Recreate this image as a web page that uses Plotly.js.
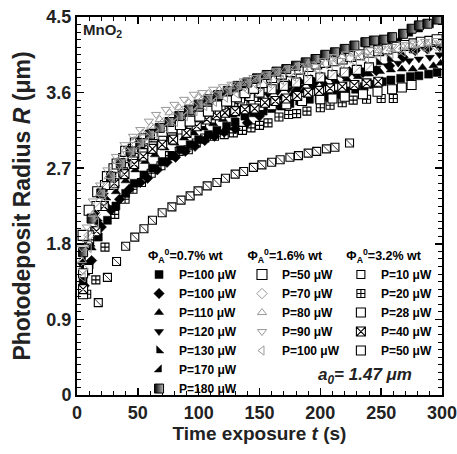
<!DOCTYPE html>
<html><head><meta charset="utf-8">
<script src="https://cdn.plot.ly/plotly-3.0.1.min.js"></script>
<style>body{margin:0;background:#fff}#chart{width:457px;height:454px}</style>
</head><body><div id="chart"></div>
<script>
// ---- Φ_A^0 = 0.7% wt (black filled) ----
const t_07_sq100 = [5,10,17.5,25,32,40,47,55,62,70,78,85,93,100,108,115,123,130,138,145,153,160,168,175,183,191,199,206,214,221,229,236,244,251,258,266,274,281,289,296];
const r_07_sq100 = [1.35,1.55,1.88,2.08,2.25,2.4,2.52,2.62,2.7,2.78,2.85,2.92,2.98,3.04,3.1,3.15,3.2,3.25,3.32,3.36,3.38,3.41,3.44,3.47,3.5,3.52,3.53,3.55,3.58,3.62,3.64,3.67,3.7,3.73,3.75,3.77,3.79,3.8,3.82,3.84];
const t_07_di100 = [6,12,20,28,35,43,52,58,66,74,81,89,97,105,113,121,130,140,150,165,180,195,210,224,235,246,257,268,278,288,298];
const r_07_di100 = [1.3,1.6,2.0,2.2,2.33,2.45,2.53,2.58,2.68,2.77,2.83,2.9,2.96,3.03,3.08,3.13,3.17,3.24,3.32,3.46,3.62,3.72,3.8,3.85,3.84,3.86,3.92,4.02,4.1,4.12,4.15];
const t_07_up110 = [7,12,18,25,32,40,48,56,64,72,80,88,96,104,112,120,128,136,144,152,160,168,177,186,195,204,213,222,231,240,249,258,267,276,284,293,299];
const r_07_up110 = [1.45,1.75,2.05,2.25,2.42,2.55,2.68,2.78,2.86,2.94,3.0,3.06,3.12,3.18,3.23,3.28,3.33,3.38,3.42,3.46,3.5,3.54,3.58,3.62,3.66,3.7,3.73,3.76,3.79,3.82,3.85,3.87,3.88,3.88,3.9,3.92,3.95];
const t_07_dn120 = [4,9,15,22,29,37,45,53,61,69,77,85,93,101,109,117,125,133,141,149,157,165,174,183,192,201,210,219,228,237,246,255,264,273,281,290,298];
const r_07_dn120 = [1.55,1.85,2.15,2.38,2.55,2.68,2.8,2.9,2.98,3.06,3.13,3.2,3.26,3.31,3.36,3.4,3.44,3.48,3.52,3.55,3.58,3.61,3.64,3.67,3.7,3.74,3.77,3.8,3.83,3.86,3.89,3.92,3.95,3.98,4.0,4.02,4.05];
const t_07_sw130 = [6,11,17,24,31,39,47,55,63,71,79,87,95,103,111,119,127,135,143,151,159,167,176,185,194,203,212,221,230,239,248,257,266,275,283,292,299];
const r_07_sw130 = [1.5,1.8,2.1,2.35,2.52,2.66,2.78,2.88,2.97,3.05,3.12,3.18,3.25,3.3,3.36,3.42,3.47,3.52,3.56,3.6,3.63,3.66,3.7,3.73,3.76,3.79,3.82,3.85,3.88,3.92,3.96,4.0,4.05,4.1,4.15,4.2,4.25];
const t_07_se170 = [5,10,16,23,30,38,46,54,62,70,78,86,94,102,110,118,126,134,142,150,158,166,175,184,193,202,211,220,229,238,247,256,265,274,282,291,298];
const r_07_se170 = [1.6,1.9,2.2,2.45,2.62,2.76,2.88,2.98,3.07,3.15,3.22,3.29,3.35,3.41,3.47,3.52,3.57,3.62,3.66,3.7,3.74,3.78,3.82,3.86,3.9,3.94,3.98,4.02,4.06,4.1,4.14,4.18,4.24,4.3,4.35,4.4,4.45];
const t_07_hf180 = [5,12,20,28,36,44,52,60,68,76,84,92,100,108,116,124,132,140,148,156,164,172,180,188,196,204,212,220,228,237,244,252,259,268,275,281,288,296];
const r_07_hf180 = [1.7,2.1,2.4,2.6,2.76,2.9,3.0,3.1,3.18,3.25,3.32,3.39,3.46,3.52,3.57,3.62,3.68,3.72,3.77,3.81,3.85,3.88,3.92,3.96,4.0,4.05,4.08,4.12,4.16,4.2,4.22,4.23,4.26,4.3,4.36,4.4,4.42,4.47];

// ---- Φ_A^0 = 1.6% wt (open) ----
const t_16_sq50 = [5,10,17,25,33,40,48,55,63,70,78,85,93,101,108,115,123,131,138,145,152,160,168,176,183,190,197,204,211,218,225,232,240,248,255,263,270,277,283,290,296];
const r_16_sq50 = [1.9,2.2,2.42,2.6,2.75,2.9,3.0,3.05,3.1,3.14,3.18,3.22,3.26,3.32,3.38,3.44,3.5,3.55,3.6,3.65,3.72,3.78,3.82,3.85,3.88,3.91,3.94,3.96,3.98,4.0,4.03,4.05,4.08,4.1,4.12,4.14,4.16,4.18,4.2,4.21,4.23];
const t_16_di70 = [5,10,15,21,28,35,42,49,56,63,71,79,87,95,103,111,120,129,138,147,156,165,175,185,195,205,215,225,235,245,255,265,275,285,295];
const r_16_di70 = [1.5,1.9,2.15,2.38,2.6,2.76,2.88,2.98,3.08,3.16,3.24,3.31,3.38,3.44,3.5,3.55,3.6,3.64,3.68,3.72,3.76,3.8,3.84,3.88,3.91,3.95,3.98,4.01,4.04,4.07,4.09,4.11,4.13,4.15,4.16];
const t_16_up80 = [4,8,13,19,26,33,40,47,54,61,68,76,84,92,100,108,117,126,135,144,153,162,171,180,190,199,209,218,228,238,248,258,268,278,288,298];
const r_16_up80 = [1.6,1.85,2.15,2.4,2.6,2.78,2.92,3.03,3.12,3.2,3.28,3.36,3.42,3.48,3.54,3.59,3.63,3.67,3.71,3.75,3.79,3.83,3.87,3.9,3.93,3.96,4.0,4.03,4.06,4.08,4.1,4.12,4.14,4.16,4.18,4.19];
const t_16_dn90 = [4,8,13,19,25,32,39,46,52,59,65,73,80,88,96,103,112,120,127,137,145,155,164,174,183,192,201,211,221,232,241,250,259,268,277,286,296];
const r_16_dn90 = [1.75,2.0,2.31,2.5,2.68,2.84,2.98,3.08,3.16,3.26,3.34,3.4,3.46,3.52,3.58,3.6,3.64,3.67,3.7,3.74,3.78,3.82,3.86,3.89,3.92,3.94,3.98,4.03,4.06,4.08,4.11,4.13,4.15,4.17,4.19,4.21,4.22];
const t_16_lt100 = [5,10,16,22,29,36,43,50,57,65,73,81,89,97,105,113,122,131,140,149,158,168,178,188,198,208,218,228,238,248,258,268,278,288,298];
const r_16_lt100 = [1.4,1.75,2.05,2.3,2.5,2.66,2.8,2.92,3.02,3.1,3.18,3.25,3.32,3.38,3.44,3.49,3.54,3.59,3.63,3.67,3.71,3.75,3.79,3.83,3.87,3.9,3.94,3.97,4.0,4.03,4.06,4.08,4.1,4.12,4.14];

// ---- Φ_A^0 = 3.2% wt (squares) ----
const t_32_p10 = [17.5,25,32.5,40,47.5,55,62,70,78,85.5,93,99.5,107,115,122,130,137,145,152,160,167,175,182,190,197,205,212,224];
const r_32_p10 = [1.1,1.4,1.59,1.77,1.88,1.98,2.08,2.17,2.24,2.32,2.37,2.43,2.49,2.53,2.58,2.63,2.66,2.71,2.74,2.77,2.8,2.83,2.85,2.88,2.9,2.93,2.95,3.0];
const t_32_p20 = [8,15.5,23,31,39.5,46,53,61,69,76,84,91.5,98,105,113,121,128.5,136,143,150,157,166,174,180.5,189,200,208,218,227,238,250,260];
const r_32_p20 = [1.2,1.37,1.76,2.15,2.33,2.45,2.53,2.64,2.73,2.85,2.9,2.92,3.0,3.06,3.08,3.1,3.12,3.15,3.18,3.21,3.24,3.31,3.34,3.35,3.38,3.42,3.45,3.48,3.51,3.52,3.53,3.53];
const t_32_p28 = [5,9,15,22,30,38,46,54,62,70,78,86,94,102,110,118,128,136,145,150,160,172,185,200,210,220,235,247,259,267,275];
const r_32_p28 = [1.2,1.5,1.95,2.25,2.5,2.65,2.78,2.88,2.96,3.03,3.1,3.16,3.2,3.25,3.29,3.33,3.42,3.46,3.5,3.44,3.45,3.46,3.5,3.52,3.53,3.55,3.58,3.61,3.64,3.66,3.69];
const t_32_p40 = [5,10,16,22,30.7,39,47,54.5,62,70,79,90,98.4,106.6,114.8,121.6,130,138,146,154.5,163,172,181,190,199,208,218,228,238,247.6];
const r_32_p40 = [1.26,1.85,1.95,2.25,2.52,2.63,2.75,2.84,2.93,2.98,3.04,3.12,3.2,3.28,3.33,3.36,3.38,3.4,3.41,3.48,3.5,3.53,3.56,3.6,3.62,3.65,3.67,3.69,3.71,3.73];
const t_32_p50 = [5,10,16,23,30,38,46,54,62,70,78,86,94,102,110,118,126,134,142,150,160,170,180,190,200,210,220,230,240];
const r_32_p50 = [1.45,1.9,2.25,2.5,2.7,2.82,2.93,3.02,3.1,3.17,3.22,3.28,3.33,3.37,3.41,3.45,3.49,3.53,3.56,3.6,3.64,3.68,3.72,3.75,3.78,3.81,3.84,3.87,3.9];

// legend titles and tick labels
const titles = ['\u00a0\u00a0Φ<sub>A</sub><sup>0</sup>=0.7% wt','\u00a0Φ<sub>A</sub><sup>0</sup>=1.6% wt','\u00a0Φ<sub>A</sub><sup>0</sup>=3.2% wt'];
const xTicks = [0,50,100,150,200,250,300];
const yTicks = [0,0.9,1.8,2.7,3.6,4.5];

const FONT = 'Liberation Sans, Arial, Helvetica, sans-serif';
const GRAY = '#999999';

function tr(x, y, name, legend, marker, show) {
  return {type:'scatter', mode:'markers', x:x, y:y, name:name, legend:legend,
          showlegend: show !== false, marker:marker, hoverinfo:'skip'};
}
const blk = (sym, size) => ({symbol:sym, size:size, color:'#000', line:{color:'#000', width:0.5}});
const gry = (sym, size) => ({symbol:sym, size:size, color:GRAY, line:{color:GRAY, width:1}});
const wsq = (sym, size) => ({symbol:sym, size:size, color:'#fff', line:{color:'#000', width:1.1}});

const data = [
  tr(t_32_p10, r_32_p10, 'P=10 μW', 'legend3', wsq('square', 8)),
  tr(t_32_p10, r_32_p10, '', 'legend3', {symbol:'line-nw', size:7, line:{color:'#000', width:0.8}}, false),
  tr(t_32_p20, r_32_p20, 'P=20 μW', 'legend3', wsq('square-cross', 8)),
  tr(t_07_sq100, r_07_sq100, 'P=100 μW', 'legend', blk('square', 8)),
  tr(t_07_di100, r_07_di100, 'P=100 μW ', 'legend', blk('diamond', 8)),
  tr(t_07_up110, r_07_up110, 'P=110 μW', 'legend', blk('triangle-up', 8)),
  tr(t_07_dn120, r_07_dn120, 'P=120 μW', 'legend', blk('triangle-down', 8)),
  tr(t_07_sw130, r_07_sw130, 'P=130 μW', 'legend', blk('triangle-sw', 8)),
  tr(t_07_se170, r_07_se170, 'P=170 μW', 'legend', blk('triangle-se', 8)),
  tr(t_32_p28, r_32_p28, 'P=28 μW', 'legend3', wsq('square', 9)),
  tr(t_32_p40, r_32_p40, 'P=40 μW', 'legend3', wsq('square-x', 9)),
  tr(t_32_p50, r_32_p50, 'P=50 μW', 'legend3', wsq('square', 9)),
  tr(t_32_p50, r_32_p50, '', 'legend3', {symbol:'line-ne', size:8, line:{color:'#888', width:0.8}}, false),
  tr(t_16_sq50, r_16_sq50, 'P=50 μW', 'legend2', wsq('square', 10)),
  tr(t_07_hf180, r_07_hf180, 'P=180 μW', 'legend', {symbol:'square', size:9, color:'#000', line:{color:'#000', width:1}, gradient:{type:'horizontal', color:'#bbb'}}),
  tr(t_16_di70, r_16_di70, 'P=70 μW', 'legend2', gry('diamond-open', 8)),
  tr(t_16_up80, r_16_up80, 'P=80 μW', 'legend2', gry('triangle-up-open', 8)),
  tr(t_16_dn90, r_16_dn90, 'P=90 μW', 'legend2', gry('triangle-down-open', 8)),
  tr(t_16_lt100, r_16_lt100, 'P=100 μW', 'legend2', gry('triangle-left-open', 8))
];

const legBase = (x, title) => ({
  x:x, y:0.40, xanchor:'left', yanchor:'top', bgcolor:'rgba(0,0,0,0)', borderwidth:0,
  font:{family:FONT, size:12, weight:'bold', color:'#000'}, traceorder:'normal',
  itemclick:false, itemdoubleclick:false,
  title:{text:title, font:{family:FONT, size:12.5, weight:'bold', color:'#000'}}
});

const axBase = {
  showline:true, linewidth:2, linecolor:'#000', mirror:'allticks',
  ticks:'inside', ticklen:7, tickwidth:1.5, tickcolor:'#000',
  showgrid:false, zeroline:false, ticklabeloverflow:'allow',
  tickfont:{family:FONT, size:18, weight:'bold', color:'#222'}
};

const layout = {
  width:457, height:454, paper_bgcolor:'#fff', plot_bgcolor:'#fff',
  margin:{l:77, r:15, t:17, b:59},
  font:{family:FONT, color:'#000'},
  xaxis: Object.assign({}, axBase, {
    range:[0,300], tickvals:xTicks, ticktext:xTicks.map(String),
    minor:{ticks:'inside', dtick:10, tick0:0, ticklen:4, tickwidth:1, tickcolor:'#000', showgrid:false},
    title:{text:'Time exposure <i>t</i> (s)', font:{family:FONT, size:19, weight:'bold', color:'#222'}, standoff:4}
  }),
  yaxis: Object.assign({}, axBase, {
    range:[0,4.5], tickvals:yTicks, ticktext:yTicks.map(String),
    minor:{ticks:'inside', dtick:0.09, tick0:0, ticklen:4, tickwidth:1, tickcolor:'#000', showgrid:false},
    title:{text:'Photodeposit Radius <i>R</i> (μm)', font:{family:FONT, size:23, weight:'bold', color:'#222'}, standoff:9}
  }),
  showlegend:true,
  legend: legBase(0.17, titles[0]),
  legend2: legBase(0.452, titles[1]),
  legend3: legBase(0.723, titles[2]),
  annotations:[
    {xref:'paper', yref:'paper', x:0.012, y:0.995, xanchor:'left', yanchor:'top', showarrow:false,
     text:'MnO<sub>2</sub>', font:{family:FONT, size:15, weight:'bold', color:'#222'}},
    {xref:'paper', yref:'paper', x:0.79, y:0.05, xanchor:'center', yanchor:'middle', showarrow:false,
     text:'<i>a<sub>0</sub>= 1.47 μm</i>', font:{family:FONT, size:17, weight:'bold', color:'#222'}}
  ]
};

Plotly.newPlot('chart', data, layout, {staticPlot:true, displayModeBar:false});
</script>
</body></html>
